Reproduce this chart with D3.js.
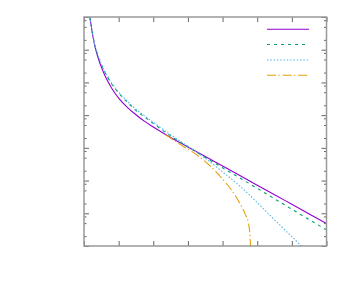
<!DOCTYPE html>
<html>
<head>
<meta charset="utf-8">
<script src="https://cdn.jsdelivr.net/npm/d3@7"></script>
<style>
body { margin: 0; background: #fff; }
</style>
</head>
<body>
<div id="chart"></div>
<script>
// tick positions (no labels in the reference)
const xTicks = [0, 1, 2, 3, 4, 5, 6, 7];
const yMajor = [1e-7, 1e-6, 1e-5, 1e-4, 1e-3, 1e-2, 1e-1, 1];
const yMinor = [2e-7, 5e-7, 8e-7, 2e-6, 5e-6, 8e-6, 2e-5, 5e-5, 8e-5,
    2e-4, 5e-4, 8e-4, 2e-3, 5e-3, 8e-3, 2e-2, 5e-2, 8e-2, 0.2, 0.5, 0.8];

// series, [x, y]
const solid = [
    [0.15, 1.6], [0.17, 1], [0.2, 0.611], [0.25, 0.282], [0.3, 0.150], [0.35, 0.0914],
    [0.4, 0.0599], [0.5, 0.0296], [0.6, 0.0165], [0.8, 0.00661], [1.0, 0.00330],
    [1.25, 0.00173], [1.5, 0.00103], [1.75, 6.43e-4], [2.0, 4.34e-4], [2.5, 2.08e-4],
    [3.0, 1.07e-4], [3.5, 5.47e-5], [4.0, 2.79e-5], [4.5, 1.42e-5], [5.0, 7.21e-6],
    [5.5, 3.70e-6], [6.0, 1.88e-6], [6.5, 9.57e-7], [7.0, 4.90e-7]
];
const dashed = [
    [0.15, 1.6], [0.17, 1], [0.2, 0.624], [0.25, 0.292], [0.3, 0.157], [0.35, 0.098],
    [0.4, 0.0675], [0.5, 0.0351], [0.6, 0.0208], [0.8, 0.00895], [1.0, 0.00471],
    [1.25, 0.00248], [1.5, 0.00139], [1.75, 8.77e-4], [2.0, 5.59e-4], [2.5, 2.30e-4],
    [3.0, 1.08e-4], [3.5, 5.07e-5], [4.0, 2.46e-5], [4.5, 1.20e-5], [5.0, 5.80e-6],
    [5.5, 2.77e-6], [6.0, 1.33e-6], [6.5, 6.40e-7], [7.0, 3.12e-7]
];
const dotted = [
    [0.15, 1.6], [0.17, 1], [0.2, 0.633], [0.25, 0.298], [0.3, 0.160], [0.35, 0.101],
    [0.4, 0.0699], [0.5, 0.0366], [0.6, 0.0219], [0.8, 0.00946], [1.0, 0.00502],
    [1.25, 0.00267], [1.5, 0.00151], [1.75, 9.53e-4], [2.0, 6.08e-4], [2.5, 2.50e-4],
    [3.0, 1.11e-4], [3.5, 4.82e-5], [4.0, 1.85e-5], [4.5, 6.77e-6], [5.0, 2.13e-6],
    [5.5, 6.31e-7], [6.0, 1.93e-7], [6.3, 9.42e-8], [6.5, 5.76e-8]
];
const dashDot = [
    [2.35, 2.54e-4], [2.5, 2.00e-4], [2.75, 1.32e-4], [3.0, 9.14e-5], [3.25, 6.21e-5],
    [3.5, 3.79e-5], [3.75, 2.16e-5], [4.0, 1.11e-5], [4.25, 5.25e-6], [4.5, 2.00e-6],
    [4.65, 9.62e-7], [4.75, 4.83e-7], [4.79, 2.16e-7], [4.805, 1.07e-7], [4.815, 4.93e-8]
];

const series = [
    { values: solid, color: '#9400d3', dash: null },
    { values: dashed, color: '#009e73', dash: '3,4' },
    { values: dotted, color: '#56b4e9', dash: '1.5,1.8' },
    { values: dashDot, color: '#e69f00', dash: '9,2.3,1.3,3' }
];

const width = 354, height = 295;
const margin = { top: 17, right: 27.5, bottom: 49, left: 84 };
const w = width - margin.left - margin.right;
const h = height - margin.top - margin.bottom;

const svg = d3.select('#chart')
    .append('svg')
    .attr('width', width)
    .attr('height', height)
    .append('g')
    .attr('transform', 'translate(' + margin.left + ',' + margin.top + ')');

const x = d3.scaleLinear().domain([0, 7]).range([0, w]);
const y = d3.scaleLog().domain([1e-7, 1]).range([h, 0]);

svg.append('clipPath').attr('id', 'clip')
    .append('rect').attr('width', w).attr('height', h);

//curves
const line = d3.line()
    .curve(d3.curveMonotoneX)
    .x(d => x(d[0]))
    .y(d => y(d[1]));

svg.append('g').attr('clip-path', 'url(#clip)')
    .selectAll('path')
    .data(series)
    .join('path')
    .attr('fill', 'none')
    .attr('stroke', d => d.color)
    .attr('stroke-width', 1.1)
    .attr('stroke-dasharray', d => d.dash)
    .attr('d', d => line(d.values));

//ticks, drawn inward on all four sides
const tickStyle = g => {
    g.select('.domain').remove();
    g.selectAll('.tick line').attr('stroke', '#666').attr('stroke-width', 1);
};
svg.append('g').attr('transform', `translate(0,${h})`)
    .call(d3.axisBottom(x).tickValues(xTicks).tickSize(-5).tickFormat(''))
    .call(tickStyle);
svg.append('g')
    .call(d3.axisTop(x).tickValues(xTicks).tickSize(-5).tickFormat(''))
    .call(tickStyle);
svg.append('g')
    .call(d3.axisLeft(y).tickValues(yMajor).tickSize(-5).tickFormat(''))
    .call(tickStyle);
svg.append('g')
    .call(d3.axisLeft(y).tickValues(yMinor).tickSize(-2.5).tickFormat(''))
    .call(tickStyle);
svg.append('g').attr('transform', `translate(${w},0)`)
    .call(d3.axisRight(y).tickValues(yMajor).tickSize(-5).tickFormat(''))
    .call(tickStyle);
svg.append('g').attr('transform', `translate(${w},0)`)
    .call(d3.axisRight(y).tickValues(yMinor).tickSize(-2.5).tickFormat(''))
    .call(tickStyle);

//frame
svg.append('rect')
    .attr('width', w).attr('height', h)
    .attr('fill', 'none')
    .attr('stroke', '#999')
    .attr('stroke-width', 1.5);

//key samples
const key = d3.scaleBand().domain(d3.range(series.length)).range([4.5, 66]);
svg.append('g')
    .selectAll('line')
    .data(series)
    .join('line')
    .attr('x1', 183).attr('x2', 225)
    .attr('y1', (d, i) => key(i) + key.bandwidth() / 2)
    .attr('y2', (d, i) => key(i) + key.bandwidth() / 2)
    .attr('stroke', d => d.color)
    .attr('stroke-width', 1.1)
    .attr('stroke-dasharray', d => d.dash);
</script>
</body>
</html>
